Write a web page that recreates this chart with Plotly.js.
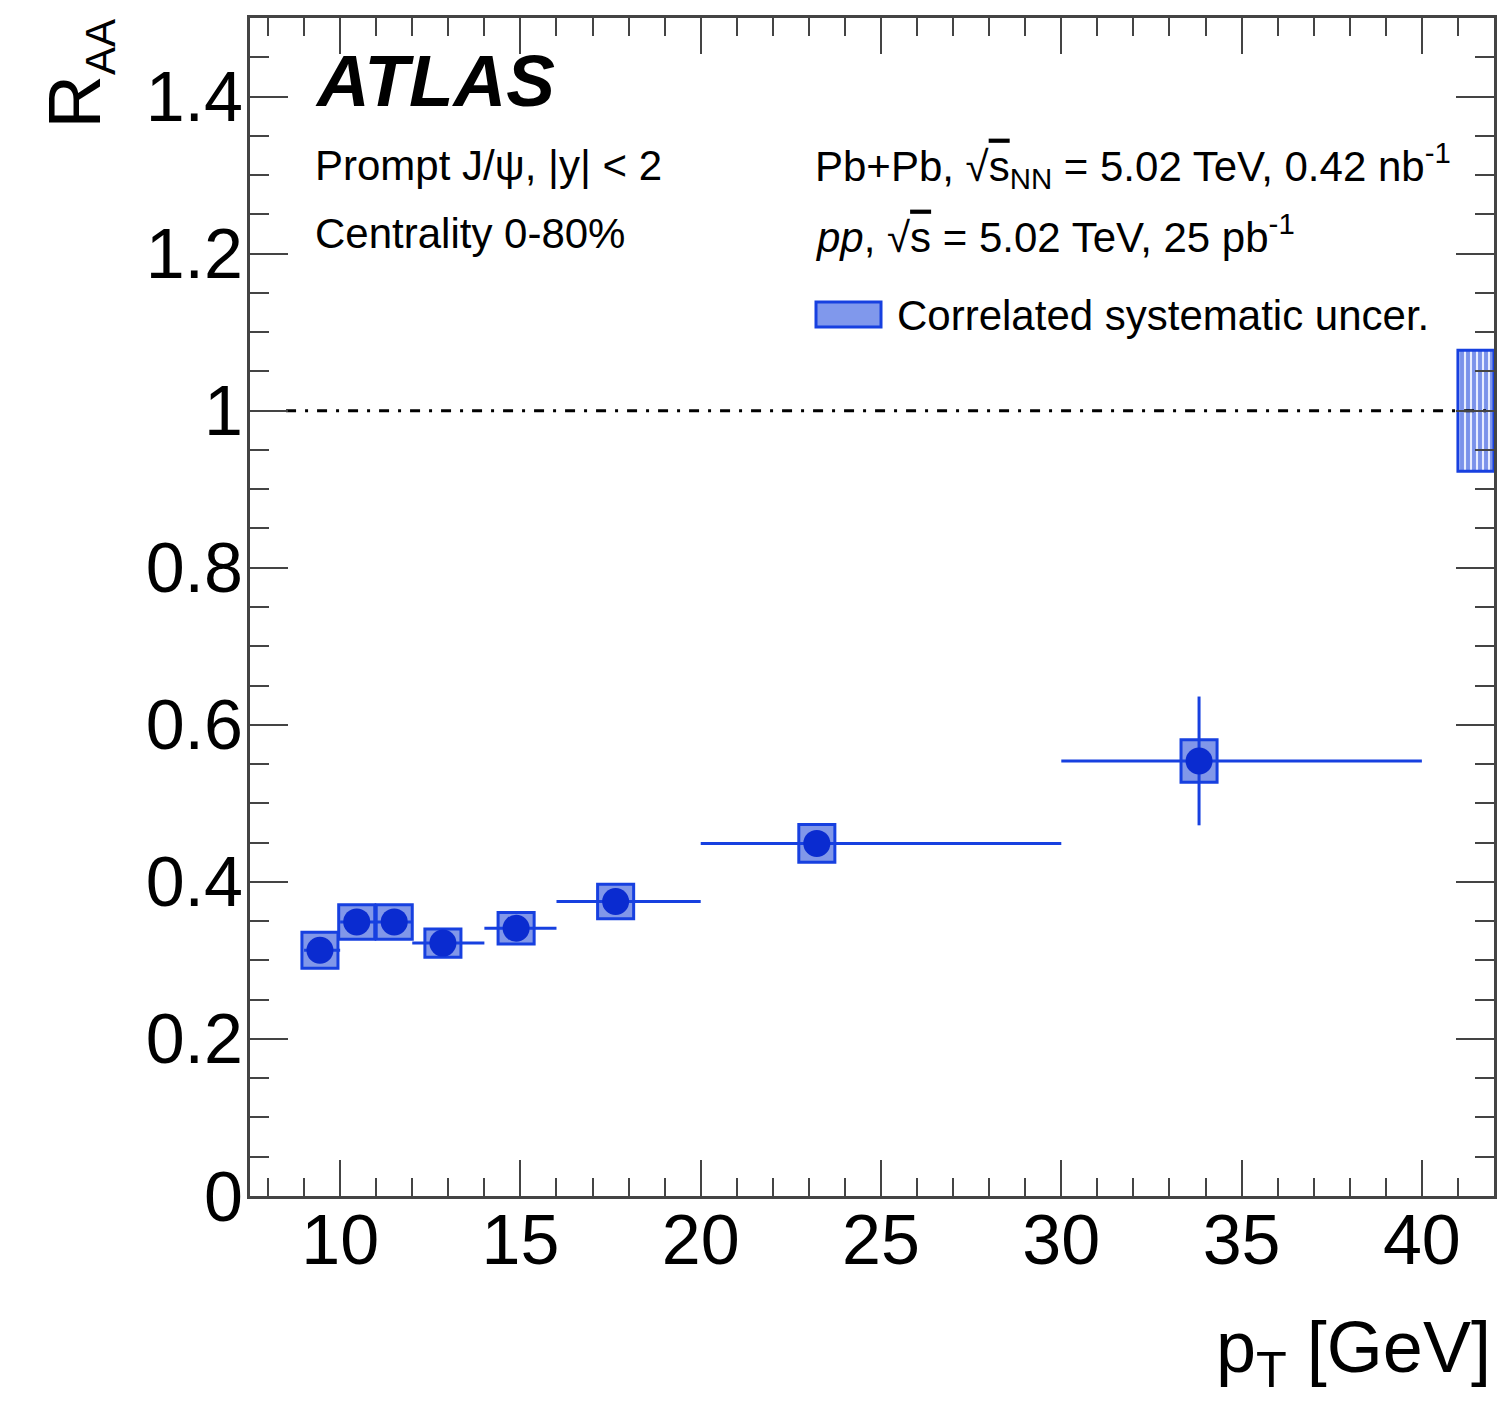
<!DOCTYPE html>
<html>
<head>
<meta charset="utf-8">
<script src="https://cdn.plot.ly/plotly-3.0.1.min.js"></script>
<style>
  html, body { margin: 0; padding: 0; background: #ffffff; }
  #chart { width: 1500px; height: 1410px; }
</style>
</head>
<body>
<div id="chart"></div>
<script>
// ---- data ----
const ptCenter = [9.44, 10.46, 11.5, 12.85, 14.88, 17.64, 23.22, 33.82];
const ptLow    = [9, 10, 11, 12, 14, 16, 20, 30];
const ptHigh   = [10, 11, 12, 14, 16, 20, 30, 40];
const raa      = [0.313, 0.349, 0.349, 0.322, 0.341, 0.375, 0.449, 0.554];
const statErr  = [0.012, 0.012, 0.012, 0.010, 0.010, 0.012, 0.015, 0.082];
const sysErr   = [0.023, 0.022, 0.022, 0.018, 0.020, 0.022, 0.024, 0.027];
const corrPt   = [41.5];
const corrCenter = 1.0;
const corrSys  = 0.077;
const refLineX = [8.5, 42];
const refLineY = [1, 1];
const xTickVals = [10, 15, 20, 25, 30, 35, 40];
const yTickVals = [0, 0.2, 0.4, 0.6, 0.8, 1, 1.2, 1.4];

// ---- styles ----
const FONT = "Liberation Sans, Arial, Helvetica, sans-serif";
const BLUE = "#0a2bd0";
const LINEBLUE = "#1740e0";
const FRAME = "#444444";

const boxWidth = 1.0;

const sysBoxes = {
  type: "bar",
  x: ptCenter,
  base: raa.map((v, i) => v - sysErr[i]),
  y: sysErr.map(s => 2 * s),
  width: ptCenter.map(() => boxWidth),
  marker: { color: "rgba(25,65,215,0.55)", line: { color: LINEBLUE, width: 3 } },
  hoverinfo: "skip",
  showlegend: false
};

const corrBox = {
  type: "bar",
  x: corrPt,
  base: [corrCenter - corrSys],
  y: [2 * corrSys],
  width: [boxWidth],
  marker: {
    color: "#8098ec",
    line: { color: LINEBLUE, width: 3 },
    pattern: { shape: "|", fgcolor: "#e6ecff", bgcolor: "#7a92ea", size: 6, solidity: 0.35 }
  },
  hoverinfo: "skip",
  showlegend: false
};

const refLine = {
  type: "scatter",
  mode: "lines",
  x: refLineX,
  y: refLineY,
  line: { color: "#000000", width: 3, dash: "10px,9px,3px,9px" },
  hoverinfo: "skip",
  showlegend: false
};

const points = {
  type: "scatter",
  mode: "markers",
  x: ptCenter,
  y: raa,
  marker: { color: BLUE, size: 27, line: { width: 0 } },
  error_x: {
    type: "data", symmetric: false,
    array: ptHigh.map((h, i) => h - ptCenter[i]),
    arrayminus: ptLow.map((l, i) => ptCenter[i] - l),
    color: LINEBLUE, thickness: 3, width: 0
  },
  error_y: {
    type: "data", array: statErr, color: LINEBLUE, thickness: 3, width: 0
  },
  hoverinfo: "skip",
  showlegend: false
};

// paper-coordinate helpers for placing text (plot area: x 250..1494, y 18..1196 px)
const L = 250, R = 1494, T = 18, B = 1196;
const px = v => (v - L) / (R - L);
const py = v => (B - v) / (B - T);

const annotations = [
  { text: "<b><i>ATLAS</i></b>", x: px(313), y: py(80), xanchor: "left", yanchor: "middle",
    font: { family: FONT, size: 73, color: "#000" } },
  { text: "Prompt J/ψ, |y| < 2", x: px(313), y: py(166), xanchor: "left", yanchor: "middle",
    font: { family: FONT, size: 42, color: "#000" } },
  { text: "Centrality 0-80%", x: px(313), y: py(234), xanchor: "left", yanchor: "middle",
    font: { family: FONT, size: 42, color: "#000" } },
  { text: "Pb+Pb, √<span style='text-decoration:overline'>s</span><sub>NN</sub> = 5.02 TeV, 0.42 nb<sup>-1</sup>",
    x: px(813), y: py(166), xanchor: "left", yanchor: "middle",
    font: { family: FONT, size: 42, color: "#000" } },
  { text: "<i>pp</i>, √<span style='text-decoration:overline'>s</span> = 5.02 TeV, 25 pb<sup>-1</sup>",
    x: px(813), y: py(234), xanchor: "left", yanchor: "middle",
    font: { family: FONT, size: 42, color: "#000" } },
  { text: "Correlated systematic uncer.", x: px(895), y: py(315), xanchor: "left", yanchor: "middle",
    font: { family: FONT, size: 42, color: "#000" } },
  { text: "R<sub><span style='font-size:42px'>AA</span></sub>", textangle: -90, x: px(78), y: 1, xanchor: "center", yanchor: "top",
    font: { family: FONT, size: 74, color: "#000" } },
  { text: "p<sub>T</sub> [GeV]", x: px(1493), y: py(1352), xanchor: "right", yanchor: "middle",
    font: { family: FONT, size: 72, color: "#000" } }
].map(a => Object.assign({ xref: "paper", yref: "paper", showarrow: false }, a));

const shapes = [
  { type: "rect", xref: "paper", yref: "paper",
    x0: px(816), x1: px(881), y0: py(327), y1: py(302),
    fillcolor: "#8098ec", line: { color: LINEBLUE, width: 3 } }
];

const axisCommon = {
  showline: true, linecolor: FRAME, linewidth: 3, mirror: "ticks",
  ticks: "inside", tickcolor: FRAME, tickwidth: 2,
  showgrid: false, zeroline: false,
  tickfont: { family: FONT, size: 70, color: "#000" }
};

const layout = {
  width: 1500, height: 1410,
  margin: { l: L, r: 1500 - R, t: T, b: 1410 - B },
  paper_bgcolor: "#ffffff", plot_bgcolor: "#ffffff",
  showlegend: false, hovermode: false, barmode: "overlay",
  xaxis: Object.assign({}, axisCommon, {
    range: [7.5, 42], tickmode: "array", tickvals: xTickVals,
    ticklen: 36, ticklabelstandoff: -19,
    minor: { dtick: 1, tick0: 0, ticks: "inside", ticklen: 18, tickwidth: 2, tickcolor: FRAME, showgrid: false }
  }),
  yaxis: Object.assign({}, axisCommon, {
    range: [0, 1.5], tickmode: "array", tickvals: yTickVals,
    ticktext: yTickVals.map(v => String(v)),
    ticklen: 38, ticklabelstandoff: -10,
    minor: { dtick: 0.05, tick0: 0, ticks: "inside", ticklen: 19, tickwidth: 2, tickcolor: FRAME, showgrid: false }
  }),
  annotations: annotations,
  shapes: shapes
};

Plotly.newPlot("chart", [sysBoxes, corrBox, refLine, points], layout, { staticPlot: true, displayModeBar: false });
</script>
</body>
</html>
